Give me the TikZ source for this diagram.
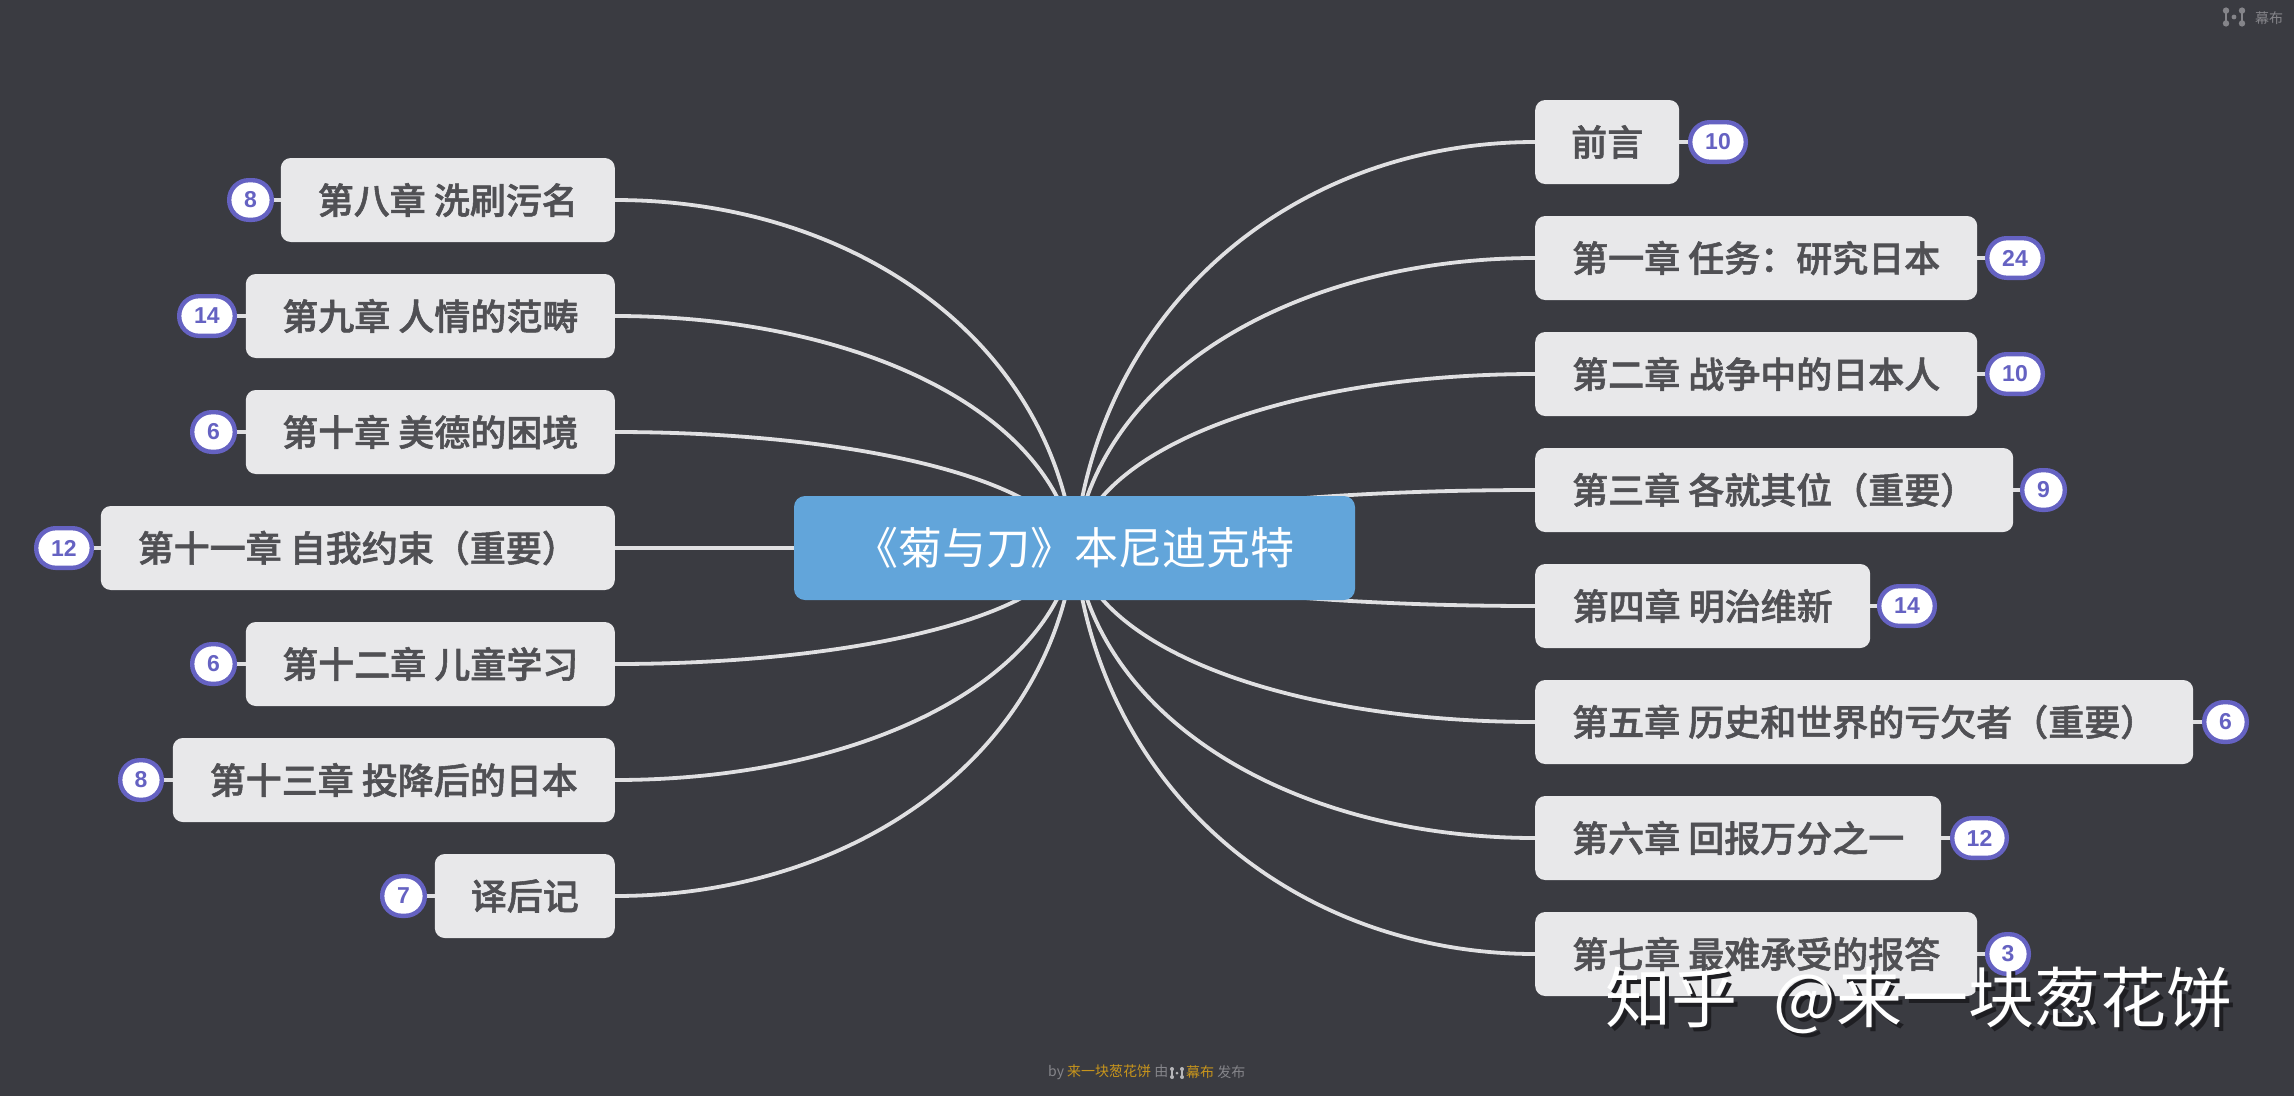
\documentclass[tikz,border=0pt]{standalone}
\usepackage{fontspec}
\usetikzlibrary{calc,backgrounds}
\setmainfont{Liberation Sans}
\newfontfamily\cjk{Noto Sans CJK SC}
\newfontfamily\cjkmed[FakeBold=1.5]{Noto Sans CJK SC Medium}
\newfontfamily\numfont{Liberation Sans}
\definecolor{bgc}{HTML}{3A3B41}
\definecolor{boxc}{HTML}{E8E8EA}
\definecolor{linec}{HTML}{E0E0E2}
\definecolor{rootc}{HTML}{62A5DA}
\definecolor{inkc}{HTML}{505054}
\definecolor{badgec}{HTML}{6562C2}
\definecolor{footg}{HTML}{85858A}
\definecolor{footo}{HTML}{C8951C}
\definecolor{shadowc}{HTML}{1E1E22}
\tikzset{
  x=1pt,y=-1pt,
  conn/.style={draw=linec,line width=3.8pt},
  rootbox/.style={fill=rootc,rounded corners=11pt,inner sep=0pt,text=white,font=\cjk\fontsize{44}{50}\selectfont,minimum height=104pt,minimum width=561pt},
  topicbox/.style={fill=boxc,rounded corners=10pt,inner sep=0pt,text=inkc,font=\cjkmed\fontsize{36}{42}\selectfont,minimum height=84pt},
  badgebox/.style={fill=white,draw=badgec,line width=4.4pt,rounded corners=19.5pt,inner sep=0pt,text=badgec,font=\numfont\bfseries\fontsize{23}{26}\selectfont,minimum height=39.6pt},
  footnode/.style={inner sep=0pt,anchor=west,font=\cjk\fontsize{14}{16}\selectfont},
  markline/.style={line width=1.3pt},
  mubu/.pic={
    \draw[markline] (-1,-.8)--(-1,.8) (1,-.8)--(1,.8);
    \fill (-1,-.8) circle (.4) (-1,.8) circle (.4) (1,-.8) circle (.4) (1,.8) circle (.4) (0,0) circle (.3);
  }
}
\newcommand{\curvelink}[2]{%
  \draw[conn] let \p1=(#1), \p2=(#2) in (\p1) .. controls ({\x1+0.054*(\x2-\x1)},{\y1+0.61*(\y2-\y1)}) and ({\x2-0.51*(\x2-\x1)},\y2) .. (\p2);}
\newcommand{\rbranch}[7]{%
  \node[topicbox,anchor=west,minimum width={(#3-1535)*1pt}] (#1) at (1535,#2) {#4};
  \node[badgebox,minimum width={(#6-#5-4.4)*1pt}] (#1b) at ({(#5+#6)/2},#2) {#7};
  \begin{scope}[on background layer]
    \curvelink{root.center}{#1.west}
    \draw[conn] (#1.east) -- (#1b.west);
  \end{scope}}
\newcommand{\lbranch}[7]{%
  \node[topicbox,anchor=east,minimum width={(615-#3)*1pt}] (#1) at (615,#2) {#4};
  \node[badgebox,minimum width={(#6-#5-4.4)*1pt}] (#1b) at ({(#5+#6)/2},#2) {#7};
  \begin{scope}[on background layer]
    \curvelink{root.center}{#1.east}
    \draw[conn] (#1.west) -- (#1b.east);
  \end{scope}}
\begin{document}
\begin{tikzpicture}
\useasboundingbox (0,0) rectangle (2294,1096);
\begin{scope}[on background layer]
  \fill[bgc] (0,0) rectangle (2294,1096);
\end{scope}
\node[rootbox] (root) at (1074.5,548) {《菊与刀》本尼迪克特};

\rbranch{r0}{142}{1679}{前言}{1688}{1748}{10}
\rbranch{r1}{258}{1977}{第一章 任务：研究日本}{1985}{2045}{24}
\rbranch{r2}{374}{1977}{第二章 战争中的日本人}{1985}{2045}{10}
\rbranch{r3}{490}{2013}{第三章 各就其位（重要）}{2020}{2067}{9}
\rbranch{r4}{606}{1870}{第四章 明治维新}{1877}{1937}{14}
\rbranch{r5}{722}{2193}{第五章 历史和世界的亏欠者（重要）}{2202}{2249}{6}
\rbranch{r6}{838}{1941}{第六章 回报万分之一}{1950}{2009}{12}
\rbranch{r7}{954}{1977}{第七章 最难承受的报答}{1985}{2031}{3}

\lbranch{l0}{200}{281}{第八章 洗刷污名}{227}{274}{8}
\lbranch{l1}{316}{246}{第九章 人情的范畴}{177}{237}{14}
\lbranch{l2}{432}{246}{第十章 美德的困境}{190}{237}{6}
\lbranch{l3}{548}{101}{第十一章 自我约束（重要）}{34}{94}{12}
\lbranch{l4}{664}{246}{第十二章 儿童学习}{190}{237}{6}
\lbranch{l5}{780}{173}{第十三章 投降后的日本}{118}{164}{8}
\lbranch{l6}{896}{435}{译后记}{380}{427}{7}

% watermark
\node[inner sep=0pt,anchor=west,text=shadowc,font=\cjk\fontsize{66}{72}\selectfont] (wmshadow) at (1609,1004) {知乎\hspace{22pt} @来一块葱花饼};
\node[inner sep=0pt,anchor=west,text=white,font=\cjk\fontsize{66}{72}\selectfont] (wm) at (1605,1000) {知乎\hspace{22pt} @来一块葱花饼};

% corner mark
\pic[color=footg,scale=8] at (2234,17) {mubu};
\node[footnode,text=footg] (corner) at (2255,18) {幕布};

% footer
\node[footnode,text=footg] (f1) at (1048,1072) {by \textcolor{footo}{来一块葱花饼} 由};
\pic[color=footg!60!white,scale=5] at (1177,1073) {mubu};
\node[footnode,text=footg] (f2) at (1186,1072) {\textcolor{footo}{幕布} 发布};
\end{tikzpicture}
\end{document}
